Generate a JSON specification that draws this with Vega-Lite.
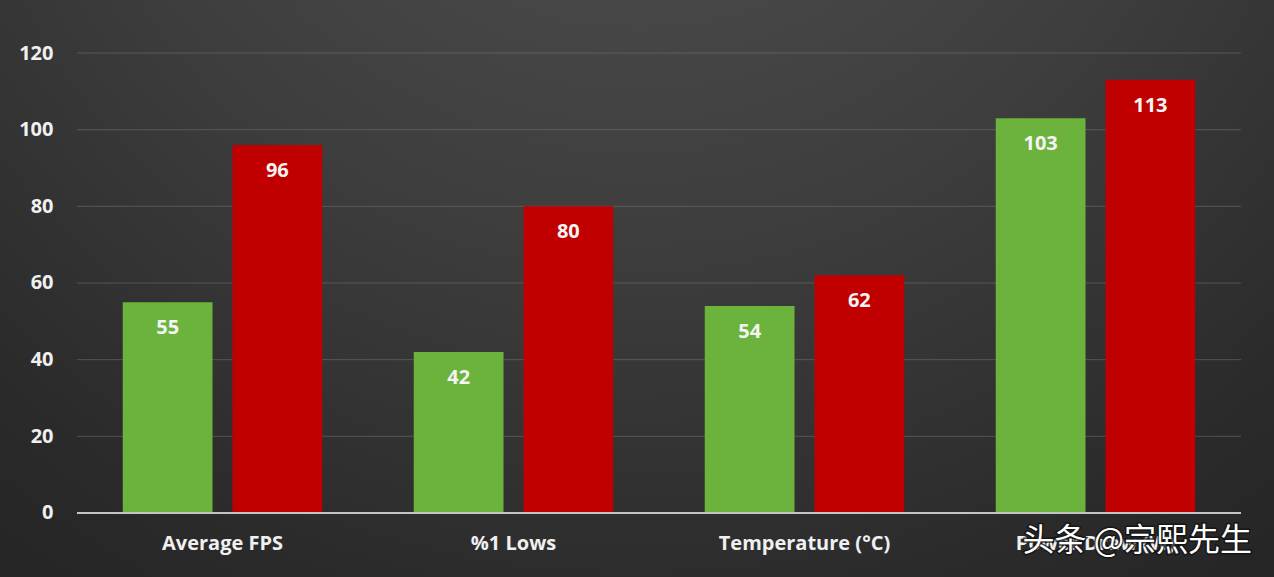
{
  "$schema": "https://vega.github.io/schema/vega-lite/v6.json",
  "width": 1274,
  "height": 577,
  "autosize": {"type": "none"},
  "padding": 0,
  "background": "#2a2a2a",
  "config": {
    "view": {
      "stroke": null,
      "fill": {
        "gradient": "radial",
        "x1": 0.5, "y1": 0.02, "r1": 0,
        "x2": 0.5, "y2": 0.02, "r2": 1.0,
        "stops": [
          {"offset": 0, "color": "#545454"},
          {"offset": 0.45, "color": "#3d3d3d"},
          {"offset": 0.75, "color": "#2a2a2a"},
          {"offset": 1, "color": "#202020"}
        ]
      }
    },
    "font": "Open Sans"
  },
  "datasets": {
    "bars": [
      {"category": "Average FPS", "series": "A", "value": 55},
      {"category": "Average FPS", "series": "B", "value": 96},
      {"category": "%1 Lows", "series": "A", "value": 42},
      {"category": "%1 Lows", "series": "B", "value": 80},
      {"category": "Temperature (°C)", "series": "A", "value": 54},
      {"category": "Temperature (°C)", "series": "B", "value": 62},
      {"category": "Power Draw (W)", "series": "A", "value": 103},
      {"category": "Power Draw (W)", "series": "B", "value": 113}
    ],
    "grid": [{"g": 20}, {"g": 40}, {"g": 60}, {"g": 80}, {"g": 100}, {"g": 120}],
    "mark": [{"w": "头条 @宗熙先生"}]
  },
  "encoding": {
    "x": {
      "field": "category",
      "type": "nominal",
      "sort": null,
      "scale": {
        "domain": ["Average FPS", "%1 Lows", "Temperature (°C)", "Power Draw (W)"],
        "paddingInner": 0,
        "paddingOuter": 0.189,
        "align": 0.7
      },
      "axis": {
        "title": null,
        "orient": "bottom",
        "offset": -64,
        "domain": false,
        "ticks": false,
        "labelAngle": 0,
        "labelFontSize": 20,
        "labelFontWeight": "bold",
        "labelColor": "#f0f0f0",
        "labelBaseline": "middle",
        "labelPadding": 30
      }
    },
    "y": {
      "type": "quantitative",
      "scale": {"domain": [-16.7, 133.83], "nice": false, "zero": false},
      "axis": {
        "title": null,
        "orient": "left",
        "offset": -77,
        "values": [0, 20, 40, 60, 80, 100, 120],
        "domain": false,
        "ticks": false,
        "grid": false,
        "labelFontSize": 20,
        "labelFontWeight": "bold",
        "labelColor": "#f0f0f0",
        "labelPadding": 24
      }
    }
  },
  "layer": [
    {
      "data": {"name": "grid"},
      "mark": {"type": "rule", "color": "#7a7a7a", "opacity": 0.5, "strokeWidth": 1},
      "encoding": {
        "y": {"field": "g", "type": "quantitative"},
        "x": {"datum": "Average FPS", "type": "nominal", "bandPosition": 0},
        "x2": {"datum": "Power Draw (W)", "bandPosition": 1}
      }
    },
    {
      "data": {"name": "bars"},
      "mark": {"type": "bar"},
      "encoding": {
        "y": {"field": "value", "type": "quantitative"},
        "y2": {"datum": 0},
        "xOffset": {
          "field": "series",
          "type": "nominal",
          "scale": {"paddingInner": 0.182, "paddingOuter": 0.417}
        },
        "color": {
          "field": "series",
          "type": "nominal",
          "scale": {"domain": ["A", "B"], "range": ["#6cb33e", "#c00000"]},
          "legend": null
        }
      }
    },
    {
      "data": {"name": "bars"},
      "mark": {"type": "text", "color": "#f4f4f4", "fontSize": 20, "fontWeight": "bold", "baseline": "middle", "dy": 26},
      "encoding": {
        "y": {"field": "value", "type": "quantitative"},
        "xOffset": {
          "field": "series",
          "type": "nominal",
          "scale": {"paddingInner": 0.182, "paddingOuter": 0.417}
        },
        "text": {"field": "value", "type": "quantitative"}
      }
    },
    {
      "data": {"values": [{"b": 0}]},
      "mark": {"type": "rule", "color": "#c4c4c4", "strokeWidth": 2},
      "encoding": {
        "y": {"datum": 0, "type": "quantitative"},
        "x": {"datum": "Average FPS", "type": "nominal", "bandPosition": 0},
        "x2": {"datum": "Power Draw (W)", "bandPosition": 1}
      }
    },
    {
      "data": {"name": "mark"},
      "mark": {"type": "text", "font": "Noto Sans CJK SC", "fontSize": 32, "color": "#111111", "stroke": "#111111", "strokeWidth": 3, "strokeOpacity": 0.8, "align": "right", "baseline": "middle", "dx": 11},
      "encoding": {
        "text": {"field": "w", "type": "nominal"},
        "x": {"datum": "Power Draw (W)", "type": "nominal", "bandPosition": 1},
        "y": {"datum": -7.3, "type": "quantitative"}
      }
    },
    {
      "data": {"name": "mark"},
      "mark": {"type": "text", "font": "Noto Sans CJK SC", "fontSize": 32, "color": "#ffffff", "align": "right", "baseline": "middle", "dx": 11},
      "encoding": {
        "text": {"field": "w", "type": "nominal"},
        "x": {"datum": "Power Draw (W)", "type": "nominal", "bandPosition": 1},
        "y": {"datum": -7.3, "type": "quantitative"}
      }
    }
  ]
}
